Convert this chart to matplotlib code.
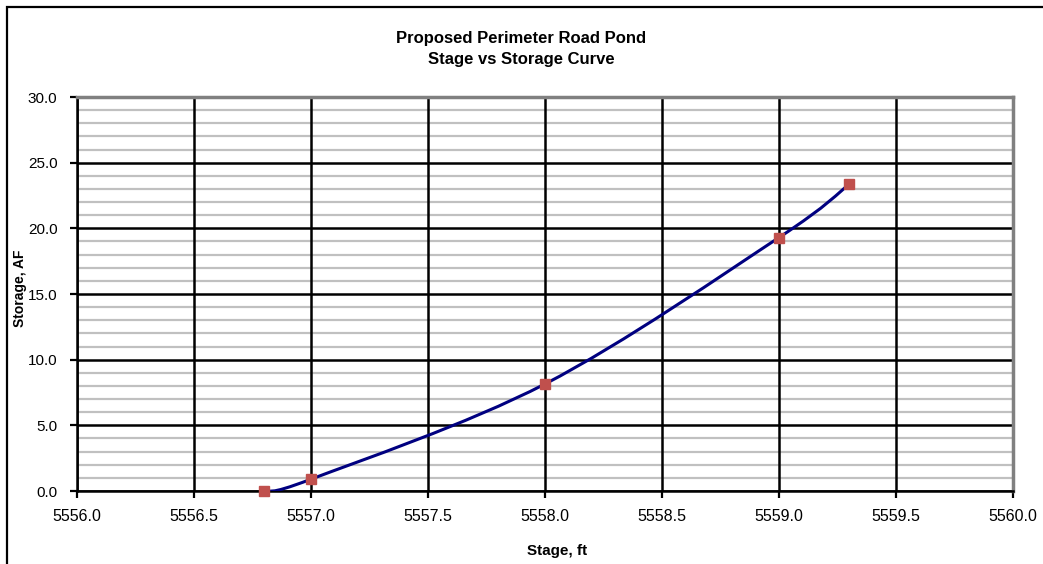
import numpy as np
import matplotlib.pyplot as plt
from matplotlib.path import Path
from matplotlib.patches import PathPatch, Rectangle

plt.rcParams['font.family'] = ['Liberation Sans', 'DejaVu Sans']

# stage (ft) vs storage (acre-feet)
stage = [5556.8, 5557.0, 5558.0, 5559.0, 5559.3]
storage = [0.0, 0.9, 8.15, 19.3, 23.35]

x_ticks = [5556.0, 5556.5, 5557.0, 5557.5, 5558.0, 5558.5, 5559.0, 5559.5, 5560.0]
y_ticks = [0.0, 5.0, 10.0, 15.0, 20.0, 25.0, 30.0]


def smooth_path(xs, ys):
    '''Excel-like smoothed line: cubic bezier through the points'''
    p = np.column_stack([xs, ys])
    n = len(p)
    verts = [p[0]]
    codes = [Path.MOVETO]
    for i in range(n - 1):
        p0 = p[i - 1] if i > 0 else p[i]
        p3 = p[i + 2] if i + 2 < n else p[i + 1]
        c1 = p[i] + (p[i + 1] - p0) / 6.0
        c2 = p[i + 1] - (p3 - p[i]) / 6.0
        verts += [c1, c2, p[i + 1]]
        codes += [Path.CURVE4] * 3
    return Path(verts, codes)


fig = plt.figure(figsize=(10.43, 5.64), dpi=100)
ax = fig.add_axes([0.0738, 0.1294, 0.8974, 0.6986])

# outer chart border (cut off on right and bottom)
fig.patches.append(Rectangle((7 / 1043, -0.1), 1.2, 1 - 7 / 564 + 0.1,
                             transform=fig.transFigure, fill=False,
                             edgecolor='black', linewidth=1.6))

ax.set_xlim(5556.0, 5560.0)
ax.set_ylim(0, 30)
ax.set_xticks(x_ticks)
ax.set_yticks(y_ticks)
ax.set_xticklabels([f"{v:.1f}" for v in x_ticks])
ax.set_yticklabels([f"{v:.1f}" for v in y_ticks])
ax.set_yticks(np.arange(0, 31, 1.0), minor=True)

ax.grid(which='minor', axis='y', color='#c0c0c0', linewidth=1.6)
ax.grid(which='major', axis='both', color='black', linewidth=1.8)
ax.set_axisbelow(True)
# vertical black lines over the grey horizontal ones
ax.xaxis.set_zorder(0.6)
ax.tick_params(which='minor', length=0)
ax.tick_params(which='major', direction='out', length=5, width=1.6, pad=8)
ax.tick_params(axis='x', labelsize=11.5)
ax.tick_params(axis='y', labelsize=11, pad=9)

for s in ['top', 'right']:
    ax.spines[s].set_color('#808080')
    ax.spines[s].set_linewidth(2.5)
for s in ['left', 'bottom']:
    ax.spines[s].set_color('black')
    ax.spines[s].set_linewidth(1.8)

ax.add_patch(PathPatch(smooth_path(stage, storage), fill=False,
                       edgecolor='#000080', linewidth=2.2, zorder=3))
ax.plot(stage, storage, linestyle='none', marker='s', markersize=7,
        color='#c0504d', zorder=4, clip_on=False)

fig.text(0.5, 0.913, "Proposed Perimeter Road Pond\nStage vs Storage Curve",
         ha='center', va='center', fontsize=12, fontweight='bold',
         linespacing=1.55)
ax.set_xlabel("Stage, ft", fontsize=11, fontweight='bold')
ax.xaxis.set_label_coords(0.513, -0.134)
ax.set_ylabel("Storage, AF", fontsize=10, fontweight='bold')
ax.yaxis.set_label_coords(-0.053, 0.515)

plt.savefig("out.png", dpi=100)
